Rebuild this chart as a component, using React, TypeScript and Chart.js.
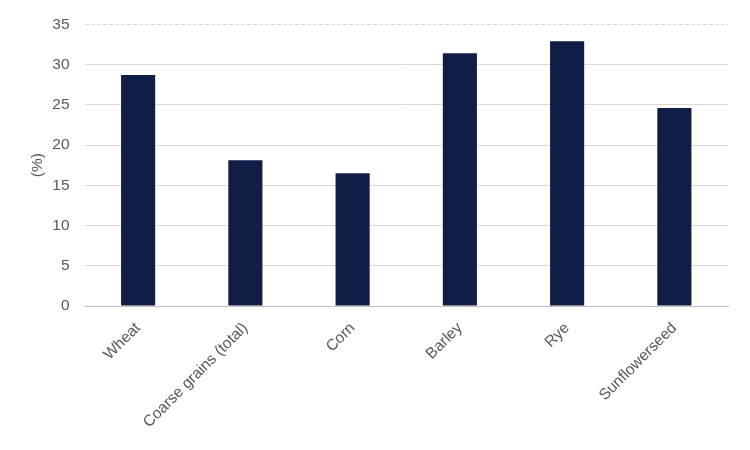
import React, { useEffect, useRef } from "react";
import { Chart, registerables } from "chart.js";

Chart.register(...registerables);

const categories = ["Wheat", "Coarse grains (total)", "Corn", "Barley", "Rye", "Sunflowerseed"];
const values = [28.7, 18.1, 16.5, 31.4, 32.9, 24.6];
const yTicks = [0, 5, 10, 15, 20, 25, 30, 35];

const FONT = "'Liberation Sans', Arial, sans-serif";
const TEXT = "#595959";

export default function App() {
  const ref = useRef<HTMLCanvasElement | null>(null);
  useEffect(() => {
    if (!ref.current) return;
    const chart = new Chart(ref.current, {
      type: "bar",
      data: {
        labels: categories,
        datasets: [
          {
            data: values,
            backgroundColor: "#101d45",
            borderWidth: 0,
            categoryPercentage: 1,
            barPercentage: 0.318,
          },
        ],
      },
      options: {
        animation: false,
        responsive: false,
        maintainAspectRatio: false,
        layout: { padding: { left: 0, right: 22, top: 22, bottom: 0 } },
        plugins: { legend: { display: false }, tooltip: { enabled: false } },
        scales: {
          x: {
            grid: { display: false },
            border: { display: true, color: "#bfbfbf", width: 1 },
            ticks: {
              color: TEXT,
              font: { family: FONT, size: 15.5 },
              maxRotation: 45,
              minRotation: 45,
              padding: 5,
              autoSkip: false,
            },
            afterFit: (s: any) => {
              s.height = 144;
            },
          },
          y: {
            min: 0,
            max: 35,
            afterBuildTicks: (s: any) => {
              s.ticks = yTicks.map((v) => ({ value: v }));
            },
            grid: {
              color: "#d9d9d9",
              lineWidth: 1,
              drawTicks: false,
            },
            border: {
              display: false,
              dash: (ctx: any) => (ctx.tick && ctx.tick.value === 35 ? [4, 2] : []),
            },
            ticks: {
              color: TEXT,
              font: { family: FONT, size: 15.5 },
              padding: 15,
            },
            title: {
              display: true,
              text: "(%)",
              color: TEXT,
              font: { family: FONT, size: 15.5 },
              padding: { top: 28, bottom: 0 },
            },
            afterFit: (s: any) => {
              s.width = 84.5;
            },
          },
        },
      },
    });
    return () => chart.destroy();
  }, []);
  return (
    <div style={{ position: "fixed", left: 0, top: 0, width: 750, height: 450, background: "#fff" }}>
      <canvas ref={ref} width={750} height={450} style={{ width: 750, height: 450 }} />
    </div>
  );
}
